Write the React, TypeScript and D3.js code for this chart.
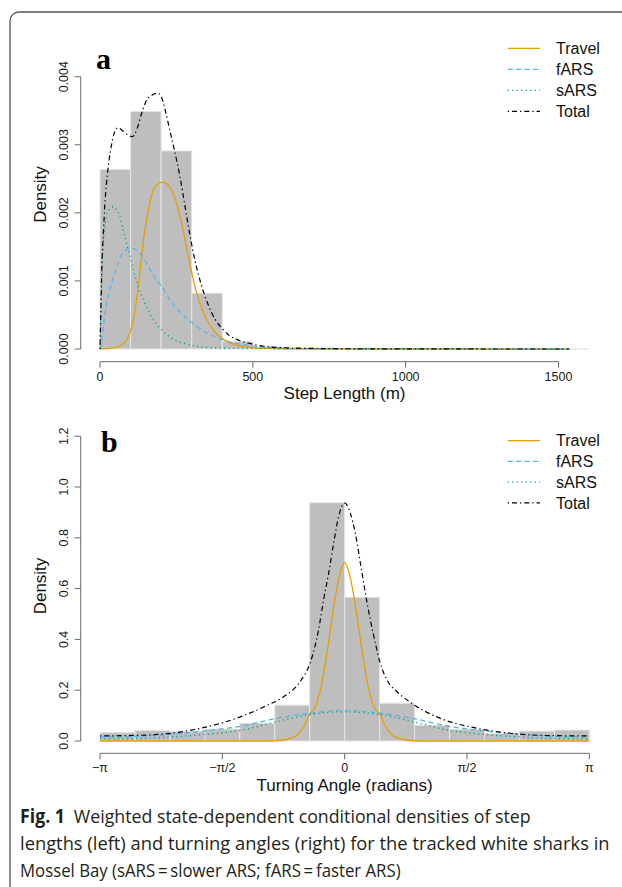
import { useLayoutEffect, useRef, useState } from 'react';
import * as d3 from 'd3';

// histogram a: step length (m), bin edges and densities
const stepBreaks = [0, 100, 200, 300, 400, 500, 600, 700, 800, 900, 1000, 1100, 1200, 1300, 1400, 1500, 1600];
const stepHist = [0.00264, 0.00349, 0.00291, 0.00082, 0.000108, 0.00003, 0.000005, 0, 0, 0, 0, 0, 0, 0, 0, 0];

// density curves a, [step length, density]
const stepTravel: [number, number][] = [
  [0, 0], [49, 0.00002], [71, 0.00006], [87, 0.00013], [104, 0.00033], [115, 0.00057], [125, 0.00092],
  [136, 0.00136], [147, 0.00175], [158, 0.00204], [169, 0.00226], [185, 0.00241], [207, 0.00245],
  [224, 0.0024], [240, 0.00228], [256, 0.00205], [273, 0.00172], [289, 0.00136], [305, 0.00102],
  [322, 0.00074], [338, 0.00054], [354, 0.00039], [376, 0.00025], [398, 0.00016], [420, 0.0001],
  [453, 0.00005], [496, 0.00002], [534, 0.00001], [700, 0], [1535, 0],
];
const stepFars: [number, number][] = [
  [0, 0], [5, 0.00012], [11, 0.00033], [22, 0.00067], [38, 0.00096], [55, 0.00121], [71, 0.00138],
  [87, 0.00146], [104, 0.00148], [120, 0.00145], [136, 0.00138], [158, 0.00121], [180, 0.00104],
  [202, 0.00092], [229, 0.00072], [256, 0.00057], [284, 0.00045], [311, 0.00035], [344, 0.00025],
  [376, 0.00018], [420, 0.00011], [474, 0.00006], [534, 0.00003], [700, 0.000008], [1000, 0.000002], [1535, 0],
];
const stepSars: [number, number][] = [
  [0, 0], [3, 0.0006], [6, 0.0011], [10, 0.0015], [16, 0.0018], [24, 0.002], [34, 0.00207], [44, 0.00209],
  [55, 0.00204], [65, 0.00195], [76, 0.00175], [93, 0.00145], [109, 0.00116], [125, 0.00092], [147, 0.00067],
  [175, 0.00043], [202, 0.00028], [234, 0.00016], [278, 0.00008], [333, 0.00003], [420, 0.00001], [1535, 0],
];
const stepTotal: [number, number][] = [
  [0, 0], [3, 0.0006], [6, 0.0012], [11, 0.0017], [17, 0.0022], [25, 0.0026], [34, 0.0029], [45, 0.00315],
  [58, 0.00325], [76, 0.0032], [93, 0.00314], [106, 0.00312], [120, 0.00322], [136, 0.00346], [153, 0.00366],
  [171, 0.00373], [189, 0.00376], [202, 0.00369], [215, 0.00348], [229, 0.0032], [245, 0.00289],
  [262, 0.00252], [278, 0.0021], [294, 0.00168], [311, 0.00129], [333, 0.00092], [354, 0.00065],
  [376, 0.00044], [398, 0.00031], [420, 0.00021], [453, 0.00013], [496, 0.000075], [534, 0.00004],
  [650, 0.000012], [800, 0.000004], [1000, 0.000001], [1535, 0],
];

// histogram b: turning angle (radians)
const angleBreaks = [-3.1416, -2.6928, -2.244, -1.7952, -1.3464, -0.8976, -0.4488, 0, 0.4488, 0.8976, 1.3464, 1.7952, 2.244, 2.6928, 3.1416];
const angleHist = [0.033, 0.041, 0.037, 0.047, 0.07, 0.141, 0.938, 0.566, 0.149, 0.062, 0.046, 0.03, 0.039, 0.043];

const angleTravel: [number, number][] = [
  [-3.1416, 0], [-1.0, 0], [-0.8, 0.003], [-0.7, 0.01], [-0.611, 0.024], [-0.526, 0.056], [-0.449, 0.106],
  [-0.376, 0.135], [-0.312, 0.201], [-0.248, 0.306], [-0.184, 0.437], [-0.119, 0.569], [-0.055, 0.665],
  [0, 0.703], [0.055, 0.665], [0.119, 0.569], [0.184, 0.437], [0.248, 0.306], [0.312, 0.201], [0.376, 0.135],
  [0.449, 0.106], [0.526, 0.056], [0.611, 0.024], [0.7, 0.01], [0.8, 0.003], [1.0, 0], [3.1416, 0],
];
const angleFars: [number, number][] = [
  [-3.1416, 0.015], [-2.69, 0.018], [-2.24, 0.026], [-1.79, 0.04], [-1.34, 0.058], [-0.89, 0.088], [-0.45, 0.11],
  [0, 0.12], [0.45, 0.11], [0.89, 0.088], [1.34, 0.058], [1.79, 0.04], [2.24, 0.026], [2.69, 0.018], [3.1416, 0.015],
];
const angleSars: [number, number][] = [
  [-3.1416, 0.008], [-2.69, 0.01], [-2.24, 0.016], [-1.79, 0.026], [-1.34, 0.042], [-0.89, 0.075], [-0.45, 0.104],
  [0, 0.115], [0.45, 0.104], [0.89, 0.075], [1.34, 0.042], [1.79, 0.026], [2.24, 0.016], [2.69, 0.01], [3.1416, 0.008],
];
const angleTotal: [number, number][] = [
  [-3.1416, 0.02], [-2.69, 0.022], [-2.24, 0.03], [-1.85, 0.05], [-1.34, 0.095], [-1.0, 0.14], [-0.78, 0.175],
  [-0.57, 0.235], [-0.44, 0.31], [-0.34, 0.43], [-0.27, 0.556], [-0.205, 0.661], [-0.141, 0.779], [-0.077, 0.884],
  [0, 0.937], [0.073, 0.897], [0.137, 0.818], [0.202, 0.7], [0.266, 0.582], [0.33, 0.477], [0.394, 0.385],
  [0.458, 0.306], [0.544, 0.24], [0.673, 0.194], [0.844, 0.152], [1.23, 0.089], [1.7, 0.05], [2.21, 0.028],
  [2.68, 0.021], [3.1416, 0.02],
];

const seriesNames = ['Travel', 'fARS', 'sARS', 'Total'];
const stepTicks = [0, 500, 1000, 1500];
const stepYTicks = [0, 0.001, 0.002, 0.003, 0.004];
const angleTicks = [-Math.PI, -Math.PI / 2, 0, Math.PI / 2, Math.PI];
const angleTickLabels = ['\u2212\u03C0', '\u2212\u03C0/2', '0', '\u03C0/2', '\u03C0'];
const angleYTicks = [0, 0.2, 0.4, 0.6, 0.8, 1.0, 1.2];

// styles
const lineStyle: Record<string, { color: string; dash?: string; w: number }> = {
  Travel: { color: '#E69F00', w: 1.3 },
  fARS: { color: '#56B4E9', dash: '5 3.5', w: 1.3 },
  sARS: { color: '#009E73', dash: '1.2 3.3', w: 1.3 },
  Total: { color: '#000000', dash: '1.3 3 5 3', w: 1.2 },
};
const SANS = '"Liberation Sans", Arial, sans-serif';
const CAP = '"Open Sans", "Noto Sans", sans-serif';
const axisCol = '#6a6a6a';

type Pt = [number, number];

function Panel(props: {
  x: d3.ScaleLinear<number, number>;
  y: d3.ScaleLinear<number, number>;
  breaks: number[];
  hist: number[];
  curves: Pt[][];
  xTicks: number[];
  xTickLabels: string[];
  yTicks: number[];
  yFmt: (v: number) => string;
  axisY: number; // pixel y of x axis
  axisX: number; // pixel x of y axis
  xTitle: string;
  yTitleY: number;
  letter: string;
  letterX: number;
  letterY: number;
  legendY: number;
  legendStep: number;
}) {
  const { x, y } = props;
  const y0 = y(0);
  const line = d3.line<Pt>().x(d => x(d[0])).y(d => y(d[1])).curve(d3.curveMonotoneX);
  const yTop = y(props.yTicks[props.yTicks.length - 1]);
  const xMid = (x.range()[0] + x(props.breaks[props.breaks.length - 1])) / 2;
  return (
    <g>
      {/* histogram */}
      {props.hist.map((h, i) => {
        const a = x(props.breaks[i]);
        const b = x(props.breaks[i + 1]);
        return (
          <path key={'b' + i}
            d={`M${a},${y0}V${y(h)}H${b}V${y0}Z`}
            fill="#bebebe" stroke="#e6e6e6" strokeWidth={1} />
        );
      })}
      {/* curves */}
      {props.curves.map((c, i) => {
        const s = lineStyle[seriesNames[i]];
        return (
          <path key={'c' + i} d={line(c) || ''} fill="none" stroke={s.color}
            strokeWidth={s.w} strokeDasharray={s.dash} />
        );
      })}
      {/* y axis */}
      <line x1={props.axisX} x2={props.axisX} y1={y0} y2={yTop} stroke={axisCol} />
      {props.yTicks.map(t => (
        <g key={'yt' + t}>
          <line x1={props.axisX - 6} x2={props.axisX} y1={y(t)} y2={y(t)} stroke={axisCol} />
          <text transform={`translate(${props.axisX - 12.5},${y(t)}) rotate(-90)`} textAnchor="middle"
            fontFamily={SANS} fontSize={12.5} fill="#1a1a1a">{props.yFmt(t)}</text>
        </g>
      ))}
      <text transform={`translate(45.7,${props.yTitleY}) rotate(-90)`} textAnchor="middle"
        fontFamily={SANS} fontSize={17} fill="#111">Density</text>
      {/* x axis */}
      <line x1={x(props.xTicks[0])} x2={x(props.xTicks[props.xTicks.length - 1])}
        y1={props.axisY} y2={props.axisY} stroke={axisCol} />
      {props.xTicks.map((t, i) => (
        <g key={'xt' + i}>
          <line x1={x(t)} x2={x(t)} y1={props.axisY} y2={props.axisY + 6} stroke={axisCol} />
          <text x={x(t)} y={props.axisY + 19} textAnchor="middle" fontFamily={SANS} fontSize={12.5}
            fill="#1a1a1a">{props.xTickLabels[i]}</text>
        </g>
      ))}
      <text x={xMid} y={props.axisY + 37.5} textAnchor="middle" fontFamily={SANS} fontSize={17}
        fill="#111">{props.xTitle}</text>
      {/* panel letter */}
      <text x={props.letterX} y={props.letterY} fontFamily='"Liberation Serif", "Times New Roman", serif'
        fontWeight="bold" fontSize={30} fill="#000">{props.letter}</text>
      {/* legend */}
      {seriesNames.map((n, i) => {
        const s = lineStyle[n];
        const ly = props.legendY + i * props.legendStep;
        return (
          <g key={'lg' + n}>
            <line x1={507.7} x2={540} y1={ly} y2={ly} stroke={s.color} strokeWidth={s.w}
              strokeDasharray={s.dash} />
            <text x={556} y={ly + 5.7} fontFamily={SANS} fontSize={16} fill="#111">{n}</text>
          </g>
        );
      })}
    </g>
  );
}

// caption line squeezed horizontally to the width it has in the figure
function CaptionLine({ y, width, bold, text }: { y: number; width: number; bold?: string; text: string }) {
  const ref = useRef<SVGTextElement>(null);
  const [sx, setSx] = useState(1);
  useLayoutEffect(() => {
    if (ref.current) {
      const len = ref.current.getComputedTextLength();
      if (len > 0) setSx(width / len);
    }
  }, [width, text]);
  return (
    <g transform={`translate(20,${y}) scale(${sx},1)`}>
      <text ref={ref} x={0} y={0} fontFamily={CAP} fontSize={19} fill="#231f20">
        {bold ? <tspan fontWeight="bold">{bold}</tspan> : null}
        <tspan>{text}</tspan>
      </text>
    </g>
  );
}

export default function App() {
  const xA = d3.scaleLinear().domain([0, 1500]).range([100, 558.5]);
  const yA = d3.scaleLinear().domain([0, 0.004]).range([349, 76.7]);
  const xB = d3.scaleLinear().domain([-Math.PI, Math.PI]).range([100, 589.3]);
  const yB = d3.scaleLinear().domain([0, 1.2]).range([741, 436.2]);
  return (
    <div style={{ position: 'absolute', left: 0, top: 0 }}>
      <svg width={622} height={887} style={{ display: 'block', background: '#fff' }}>
        <rect x={10} y={12} width={700} height={1000} rx={9} ry={9} fill="none" stroke="#555" strokeWidth={1.3} />
        <Panel x={xA} y={yA} breaks={stepBreaks} hist={stepHist}
          curves={[stepTravel, stepFars, stepSars, stepTotal]}
          xTicks={stepTicks} xTickLabels={stepTicks.map(String)}
          yTicks={stepYTicks} yFmt={d3.format('.3f')}
          axisY={361.7} axisX={80.7} xTitle="Step Length (m)" yTitleY={194.5}
          letter="a" letterX={96} letterY={69} legendY={48.3} legendStep={21} />
        <Panel x={xB} y={yB} breaks={angleBreaks} hist={angleHist}
          curves={[angleTravel, angleFars, angleSars, angleTotal]}
          xTicks={angleTicks} xTickLabels={angleTickLabels}
          yTicks={angleYTicks} yFmt={d3.format('.1f')}
          axisY={753.3} axisX={80.7} xTitle="Turning Angle (radians)" yTitleY={586}
          letter="b" letterX={101} letterY={451.5} legendY={440.7} legendStep={20.7} />
        <CaptionLine y={822.5} width={511} bold="Fig. 1"
          text={'\u2002Weighted state-dependent conditional densities of step'} />
        <CaptionLine y={849.5} width={590}
          text="lengths (left) and turning angles (right) for the tracked white sharks in" />
        <CaptionLine y={876.5} width={381}
          text={'Mossel Bay (sARS\u2009=\u2009slower ARS; fARS\u2009=\u2009faster ARS)'} />
      </svg>
    </div>
  );
}
